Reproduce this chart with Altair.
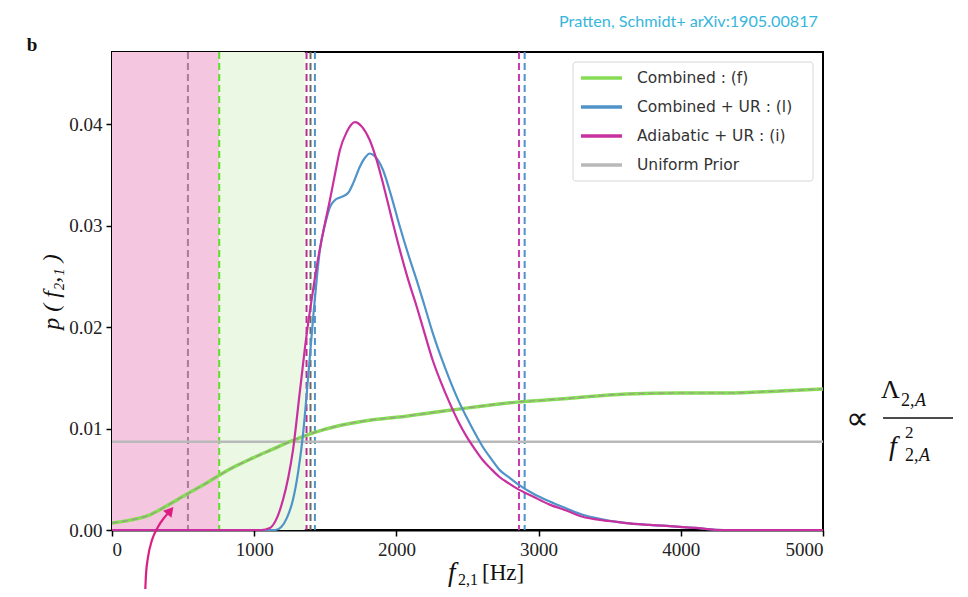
import altair as alt
import pandas as pd

# ---------------- data ----------------
x_ticks = [0, 1000, 2000, 3000, 4000, 5000]
y_ticks = [0.00, 0.01, 0.02, 0.03, 0.04]

series_names = ["Combined : (f)", "Combined + UR : (l)", "Adiabatic + UR : (i)", "Uniform Prior"]
series_colors = ["#86dc55", "#4f93c9", "#c8309f", "#b9b9b9"]

comb_f = [0, 100, 267, 400, 534, 650, 754, 870, 991, 1120, 1251, 1420, 1602, 1800,
          2000, 2375, 2846, 3148, 3619, 4000, 4322, 4700, 5000]
comb_p = [0.0007, 0.0009, 0.0015, 0.0025, 0.0036, 0.0045, 0.0054, 0.0063, 0.0071, 0.0079,
          0.0087, 0.0096, 0.0103, 0.0108, 0.0111, 0.0118, 0.0126, 0.0129, 0.0134, 0.0135,
          0.0135, 0.0137, 0.0139]

cur_f = [0, 1150, 1190, 1230, 1273, 1310, 1344, 1380, 1415, 1440, 1462, 1500, 1532, 1567,
         1610, 1660, 1700, 1743, 1780, 1813, 1850, 1905, 1960, 2024, 2080, 2143, 2200, 2256,
         2315, 2375, 2435, 2494, 2550, 2607, 2667, 2727, 2790, 2846, 2960, 3078, 3200, 3310,
         3430, 3549, 3670, 3781, 3900, 3992, 4100, 4300, 5000]
cur_p = [0, 0, 0.0003, 0.0012, 0.003, 0.0058, 0.0095, 0.0152, 0.021, 0.0248, 0.0276, 0.0302,
         0.0318, 0.0325, 0.0328, 0.0332, 0.0343, 0.0358, 0.0367, 0.0371, 0.0368, 0.0355,
         0.0331, 0.0299, 0.0273, 0.0246, 0.022, 0.0194, 0.017, 0.0148, 0.0128, 0.0111,
         0.0096, 0.0082, 0.007, 0.0059, 0.0052, 0.0046, 0.0036, 0.0028, 0.0021, 0.0015,
         0.0011, 0.0008, 0.0006, 0.0005, 0.0004, 0.0003, 0.0002, 0, 0]

adi_f = [0, 1050, 1110, 1160, 1203, 1240, 1273, 1320, 1370, 1405, 1440, 1490, 1532, 1570,
         1602, 1650, 1708, 1760, 1813, 1860, 1905, 1960, 2024, 2080, 2143, 2200, 2256, 2315,
         2375, 2435, 2494, 2550, 2607, 2667, 2727, 2790, 2846, 2960, 3078, 3200, 3310, 3430,
         3549, 3670, 3781, 3900, 3992, 4100, 4300, 5000]
adi_p = [0, 0, 0.0002, 0.0012, 0.003, 0.0052, 0.0079, 0.0135, 0.0194, 0.0228, 0.026, 0.0297,
         0.0325, 0.0352, 0.0374, 0.0392, 0.0402, 0.0397, 0.0384, 0.0365, 0.0342, 0.0311,
         0.0276, 0.0248, 0.022, 0.0193, 0.0167, 0.0145, 0.0125, 0.0107, 0.0092, 0.008,
         0.0069, 0.006, 0.0052, 0.0046, 0.0041, 0.0033, 0.0025, 0.0019, 0.0013, 0.001,
         0.0008, 0.0006, 0.0005, 0.0004, 0.0003, 0.0002, 0, 0]

prior_f = [0, 5000]
prior_p = [0.0087, 0.0087]

# shaded bands (Hz)
band_start = [0, 754]
band_end = [754, 1356]
band_colors = ["#f5c6df", "#ebf8e3"]

# vertical dashed credible-bound lines (Hz)
vline_f = [534, 754, 1368, 1396, 1427, 2862, 2902]
vline_colors = ["#a67d9c", "#5ee02a", "#b3308f", "#6e6a62", "#4f93c9", "#c83aae", "#4f93c9"]

# annotation arrow (Hz, p)
arrow_f = [232, 239, 253, 281, 323, 372, 410]
arrow_p = [-0.0066, -0.0044, -0.0027, -0.0010, 0.0003, 0.0013, 0.0019]

Y_MAX = 0.0471
W, H = 711, 478

xs = alt.Scale(domain=[0, 5000], nice=False)
ys = alt.Scale(domain=[0, Y_MAX], nice=False)

serif = "Liberation Serif"
sans = "DejaVu Sans"

# ---------------- layers ----------------
bands = alt.Chart(pd.DataFrame({"a": band_start, "b": band_end, "c": band_colors})).mark_rect().encode(
    x=alt.X("a:Q", scale=xs), x2="b:Q",
    y=alt.value(0), y2=alt.value(H),
    color=alt.Color("c:N", scale=None),
)

vlines = alt.Chart(pd.DataFrame({"f": vline_f, "c": vline_colors})).mark_rule(
    strokeDash=[7, 4], strokeWidth=2
).encode(x=alt.X("f:Q", scale=xs), color=alt.Color("c:N", scale=None))

rows = []
for nm, ff, pp in [(series_names[3], prior_f, prior_p), (series_names[0], comb_f, comb_p),
                   (series_names[1], cur_f, cur_p), (series_names[2], adi_f, adi_p)]:
    for a, b in zip(ff, pp):
        rows.append({"series": nm, "f": a, "p": b})
curves_df = pd.DataFrame(rows)

color_scale = alt.Scale(domain=series_names, range=series_colors)

def curve(name, width, interp="monotone"):
    return alt.Chart(curves_df[curves_df.series == name]).mark_line(
        strokeWidth=width, interpolate=interp
    ).encode(
        x=alt.X("f:Q", scale=xs,
                axis=alt.Axis(values=x_ticks, format="d", title=None, grid=False,
                              domainColor="black", domainWidth=2, tickColor="black",
                              tickSize=6, tickWidth=1.5, labelFont=serif, labelFontSize=19,
                              labelColor="#222", labelPadding=4)),
        y=alt.Y("p:Q", scale=ys,
                axis=alt.Axis(values=y_ticks, format=".2f", title=None, grid=False,
                              domainColor="black", domainWidth=2, tickColor="black",
                              tickSize=6, tickWidth=1.5, labelFont=serif, labelFontSize=19,
                              labelColor="#222", labelPadding=4)),
        color=alt.Color("series:N", scale=color_scale, legend=None),
    )

prior_line = curve(series_names[3], 2.5, "linear")
comb_line = curve(series_names[0], 3.5)
comb_dash = alt.Chart(curves_df[curves_df.series == series_names[0]]).mark_line(
    strokeWidth=1.2, strokeDash=[6, 4], color="#9a9a8a", interpolate="monotone"
).encode(x=alt.X("f:Q", scale=xs), y=alt.Y("p:Q", scale=ys))
cur_line = curve(series_names[1], 2.2)
adi_line = curve(series_names[2], 2.2)

# ---------------- legend (manual, inside plot) ----------------
legend_layers = [
    alt.Chart(pd.DataFrame({"k": [0]})).mark_rect(
        fill="white", stroke="#d4d4d4", strokeWidth=1, cornerRadius=3, opacity=0.95
    ).encode(x=alt.value(461), x2=alt.value(701), y=alt.value(10), y2=alt.value(129))
]
for i, (nm, col) in enumerate(zip(series_names, series_colors)):
    yy = 26 + 29 * i
    legend_layers.append(
        alt.Chart(pd.DataFrame({"k": [0]})).mark_rule(strokeWidth=3.5, color=col).encode(
            x=alt.value(469), x2=alt.value(510), y=alt.value(yy))
    )
    legend_layers.append(
        alt.Chart(pd.DataFrame({"t": [nm]})).mark_text(
            align="left", baseline="middle", font=sans, fontSize=15.5, color="#333"
        ).encode(text="t:N", x=alt.value(525), y=alt.value(yy))
    )

# ---------------- arrow ----------------
arrow_df = pd.DataFrame({"f": arrow_f, "p": arrow_p, "o": list(range(len(arrow_f)))})
arrow_line = alt.Chart(arrow_df).mark_line(color="#dc1e82", strokeWidth=2.2, interpolate="monotone").encode(
    x=alt.X("f:Q", scale=xs), y=alt.Y("p:Q", scale=ys), order="o:Q")
arrow_head = alt.Chart(arrow_df.tail(1)).mark_point(
    shape="triangle-up", filled=True, size=120, color="#dc1e82", opacity=1, angle=40
).encode(x=alt.X("f:Q", scale=xs), y=alt.Y("p:Q", scale=ys))

# ---------------- texts ----------------
def txt(t, x, y, size, font=serif, **kw):
    return alt.Chart(pd.DataFrame({"t": [t]})).mark_text(
        font=font, fontSize=size, **kw
    ).encode(text="t:N", x=alt.value(x), y=alt.value(y))

texts = [
    txt("Pratten, Schmidt+ arXiv:1905.00817", 706, -30, 16.2, font="Lato",
        align="right", baseline="middle", color="#36b6dc"),
    txt("b", -80, -7, 19, fontWeight="bold", align="center", baseline="middle", color="#111"),
    txt("p ( f₂,₁ )", -60, 240, 24, fontStyle="italic", angle=270, align="center",
        baseline="middle", color="#111"),
    # x-axis title
    txt("f", 336, 521, 27, fontStyle="italic", align="left", baseline="middle", color="#111"),
    txt("2,1", 346, 528, 16, align="left", baseline="middle", color="#111"),
    txt("[Hz]", 370, 521, 23, align="left", baseline="middle", color="#111"),
    # proportionality annotation
    txt("∝", 745, 367, 32, align="center", baseline="middle", color="#111"),
    txt("Λ", 769, 338, 26, align="left", baseline="middle", color="#111"),
    txt("2,", 789, 349, 18, align="left", baseline="middle", color="#111"),
    txt("A", 803, 349, 18, fontStyle="italic", align="left", baseline="middle", color="#111"),
    txt("f", 777, 395, 28, fontStyle="italic", align="left", baseline="middle", color="#111"),
    txt("2", 793, 381, 17, align="left", baseline="middle", color="#111"),
    txt("2,", 793, 404, 18, align="left", baseline="middle", color="#111"),
    txt("A", 807, 404, 18, fontStyle="italic", align="left", baseline="middle", color="#111"),
]
frac_bar = alt.Chart(pd.DataFrame({"k": [0]})).mark_rule(strokeWidth=1.5, color="#111").encode(
    x=alt.value(771), x2=alt.value(841), y=alt.value(366))

chart = alt.layer(
    bands, vlines, prior_line, comb_line, comb_dash, cur_line, adi_line,
    *legend_layers, arrow_line, arrow_head, *texts, frac_bar
).properties(
    width=W, height=H,
    autosize=alt.AutoSizeParams(type="none"),
    padding={"left": 104, "top": 44, "right": 137, "bottom": 59},
    background="white",
).configure_view(
    stroke="black", strokeWidth=2, fill="white"
)

chart.save("out.html", embed_options={"renderer": "svg", "actions": False})
